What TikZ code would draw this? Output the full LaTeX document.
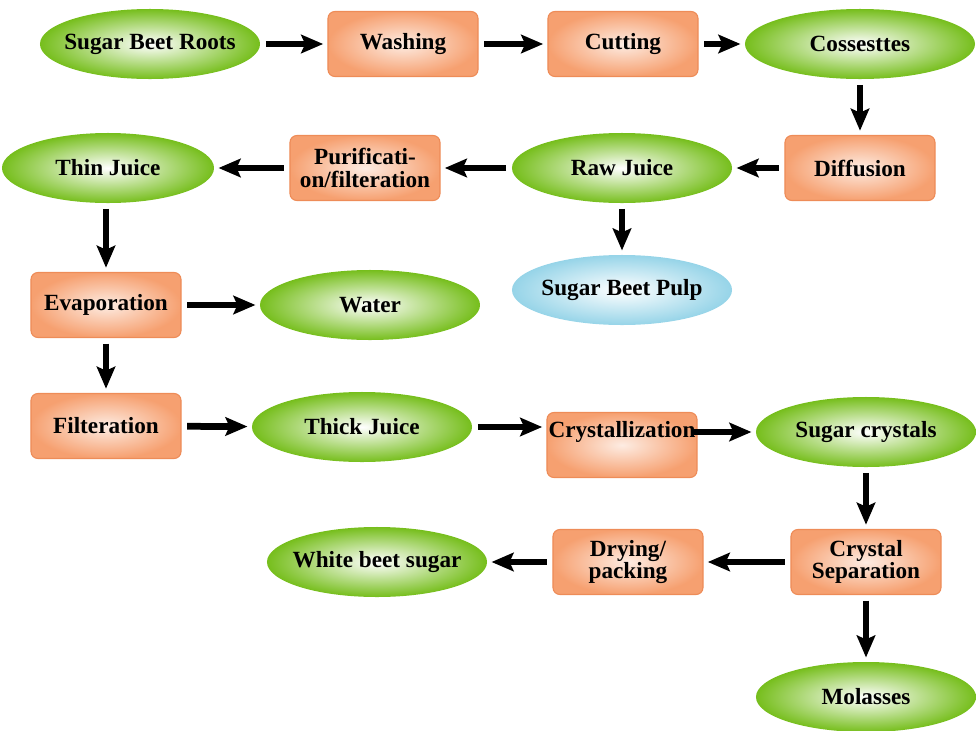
\documentclass[tikz,border=0pt]{standalone}
\usepackage{fontspec}
\setmainfont{Liberation Serif}
\usetikzlibrary{shapes.geometric,arrows.meta}
\definecolor{leafgreen}{RGB}{118,190,28}
\definecolor{peach}{RGB}{246,160,112}
\definecolor{peachline}{RGB}{238,140,88}
\definecolor{pulpblue}{RGB}{150,212,232}

\begin{document}
\begin{tikzpicture}[x=0.025cm, y=-0.025cm,
    font=\fontsize{16.5}{16}\selectfont\bfseries,
    prod/.style={ellipse, minimum width=5.5cm, minimum height=1.75cm, inner xsep=-20pt, inner ysep=0pt, inner color=white, outer color=leafgreen},
    pulp/.style={prod, outer color=pulpblue},
    proc/.style={rectangle, rounded corners=5pt, draw=peachline, line width=0.8pt, minimum width=3.75cm, minimum height=1.625cm, inner sep=1pt, align=center, inner color=white!80!peach, outer color=peach},
    flow/.style={line width=4.8pt, -{Stealth[length=0.55cm, width=0.46cm, inset=0.1cm]}, shorten <=4pt, shorten >=3pt}]
    \useasboundingbox (0,0) rectangle (976,731);
    % beet to diffusion
    \node[prod] (roots) at (150,44) {Sugar Beet Roots};
    \node[proc] (wash) at (403,44) {Washing};
    \node[proc] (cut) at (623,44) {Cutting};
    \node[prod, minimum width=5.75cm] (coss) at (860,44) {Cossesttes};
    \node[proc] (diff) at (860,168) {Diffusion};
    \node[prod] (raw) at (622,168) {Raw Juice};
    \node[proc] (purif) at (365,168) {Purificati-\\on/filteration};
    \node[prod, minimum width=5.3cm] (thin) at (108,168) {Thin Juice};
    \node[pulp] (pulpn) at (622,290) {Sugar Beet Pulp};
    % juice to sugar
    \node[proc] (evap) at (106,305) {Evaporation};
    \node[prod] (water) at (370,305) {Water};
    \node[proc] (filt) at (106,426) {Filteration};
    \node[prod] (thick) at (362,427) {Thick Juice};
    \node[proc, label={[name=crysttext, yshift=9pt]center:Crystallization}] (cryst) at (622,445) {};
    \node[prod] (sugcr) at (866,432) {Sugar crystals};
    \node[proc] (sep) at (866,562) {Crystal\\Separation};
    \node[proc] (dry) at (628,562) {Drying/\\packing};
    \node[prod] (white) at (377,562) {White beet sugar};
    \node[prod] (mol) at (866,697) {Molasses};
    \foreach \a/\b in {roots/wash, wash/cut, cut/coss, coss/diff, diff/raw, raw/purif, purif/thin, raw/pulpn,
        evap/water, evap/filt, filt/thick, sugcr/sep, sep/dry, dry/white, sep/mol}
        \draw[flow] (\a) -- (\b);
    \draw[flow] (thin.south -| evap) -- (evap);
    \coordinate (crystout) at ([xshift=-8pt]cryst.east);
    \draw[flow] (thick) -- (thick -| cryst.west);
    \draw[flow] (crystout |- sugcr) -- (sugcr);
\end{tikzpicture}
\end{document}
